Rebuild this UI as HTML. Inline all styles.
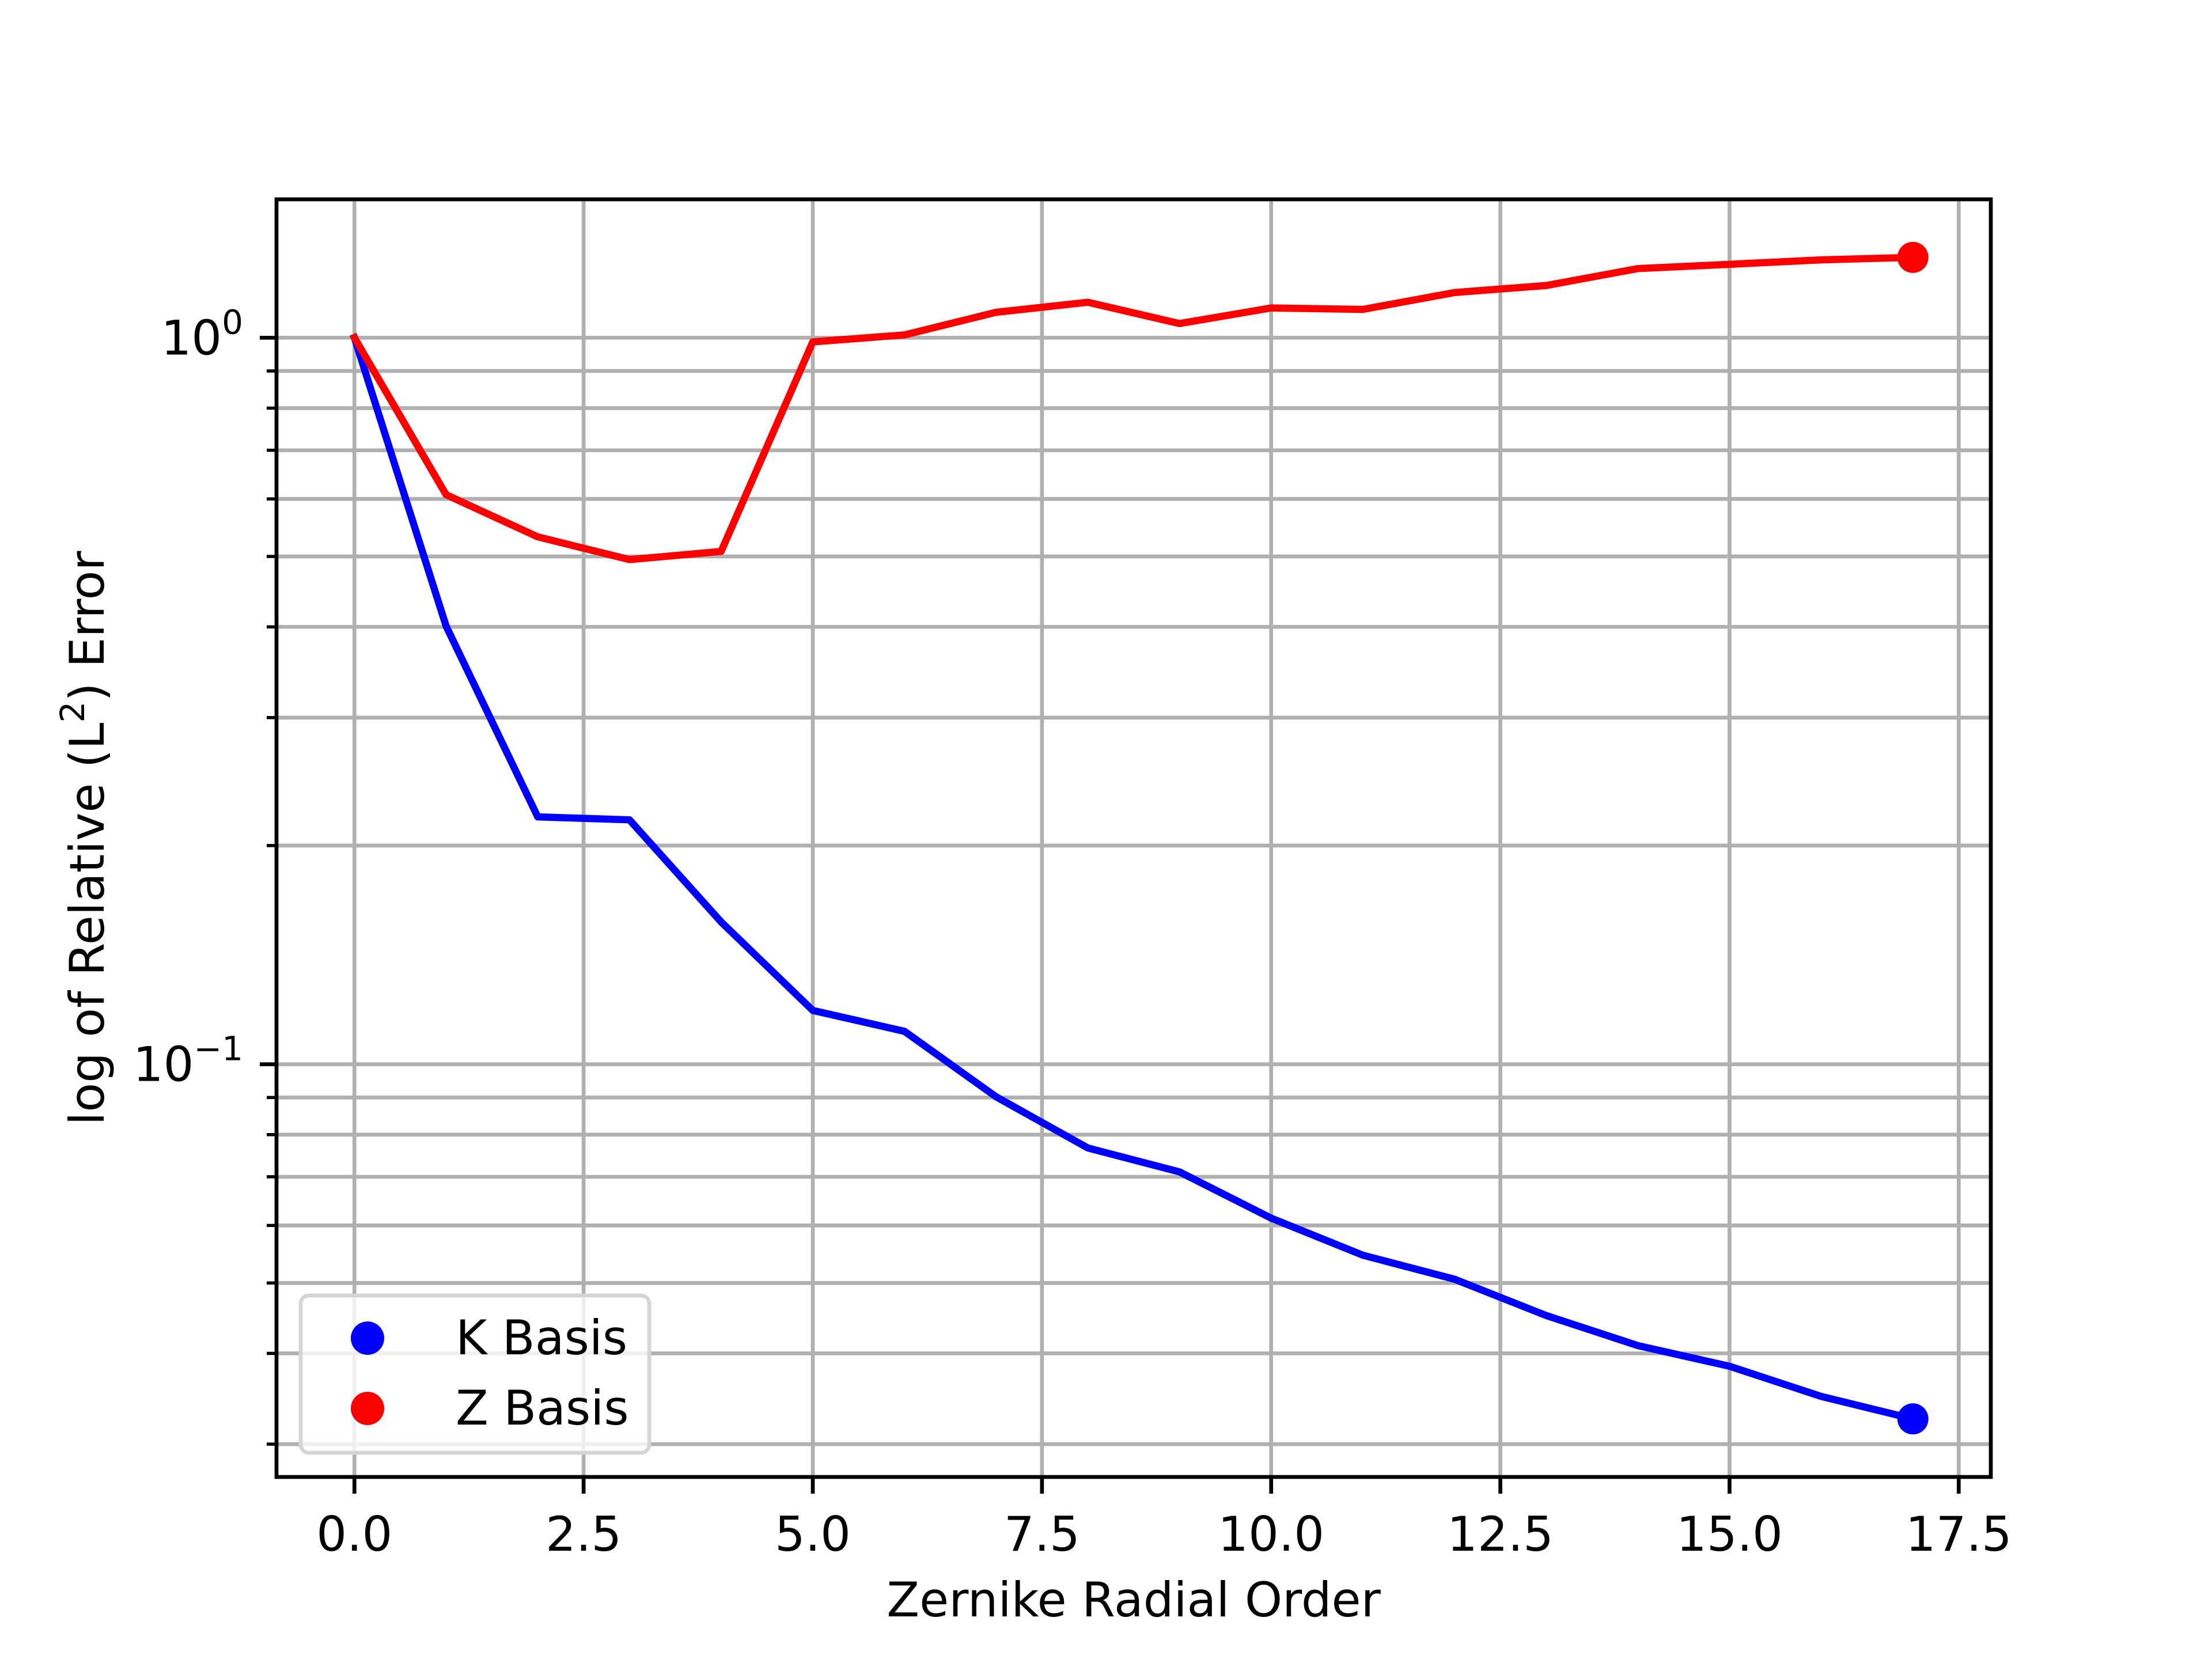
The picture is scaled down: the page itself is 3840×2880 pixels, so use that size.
<!DOCTYPE html>
<html><head><meta charset="utf-8"><style>html,body{margin:0;padding:0;background:#fff}svg{display:block}text{font-family:"DejaVu Sans","Liberation Sans",sans-serif}</style></head>
<body>
<svg id="chart" width="3840" height="2880" viewBox="0 0 3840 2880" xmlns="http://www.w3.org/2000/svg">
<rect width="3840" height="2880" fill="#fff"/>
<g id="grid"></g>
<g id="series"></g>
<g id="axes"></g>
<g id="legend"></g>
</svg>
<script>
const orders = [0,1,2,3,4,5,6,7,8,9,10,11,12,13,14,15,16,17];
const kBasis = [1.0,0.401,0.219,0.217,0.157,0.1186,0.111,0.0902,0.0767,0.0711,0.0614,0.0546,0.0506,0.0451,0.0410,0.0384,0.0349,0.0325];
const zBasis = [1.0,0.608,0.532,0.495,0.508,0.987,1.009,1.084,1.119,1.046,1.099,1.094,1.154,1.18,1.245,1.262,1.28,1.29];
const xTicks = [0,2.5,5,7.5,10,12.5,15,17.5];
const xTickLabels = ["0.0","2.5","5.0","7.5","10.0","12.5","15.0","17.5"];
const yMajor = [1,0.1];
const yMinor = [0.03,0.04,0.05,0.06,0.07,0.08,0.09,0.2,0.3,0.4,0.5,0.6,0.7,0.8,0.9];

const L=480,R=3456,T=346,B=2564;
const NS="http://www.w3.org/2000/svg";
const allX=orders, allY=kBasis.concat(zBasis);
const xmin=Math.min(...allX), xmax=Math.max(...allX), xm=(xmax-xmin)*0.05;
const x0=xmin-xm, x1=xmax+xm;
const ly=allY.map(Math.log10), lmin=Math.min(...ly), lmax=Math.max(...ly), lm=(lmax-lmin)*0.05;
const y0=lmin-lm, y1=lmax+lm;
const X=v=>L+(v-x0)/(x1-x0)*(R-L);
const Y=v=>B-(Math.log10(v)-y0)/(y1-y0)*(B-T);
function mk(tag,attrs,parent,txt){const e=document.createElementNS(NS,tag);for(const k in attrs)e.setAttribute(k,attrs[k]);if(txt!==undefined)e.textContent=txt;parent.appendChild(e);return e;}
const grid=document.getElementById('grid'),series=document.getElementById('series'),axes=document.getElementById('axes'),legend=document.getElementById('legend');
xTicks.forEach(t=>{const l=mk('line',{x1:X(t),x2:X(t),y1:T,y2:B,stroke:'#b0b0b0','stroke-width':6.7},grid);

});
yMajor.concat(yMinor).forEach(t=>{const l=mk('line',{x1:L,x2:R,y1:Y(t),y2:Y(t),stroke:'#b0b0b0','stroke-width':6.7},grid);

});
function line(vals,color,name){
  const pts=orders.map((o,i)=>X(o)+','+Y(vals[i])).join(' ');
  const p=mk('polyline',{points:pts,fill:'none',stroke:color,'stroke-width':12.5,'stroke-linejoin':'round','stroke-linecap':'square'},series);
  
  
  const n=orders.length-1;
  const c=mk('circle',{cx:X(orders[n]),cy:Y(vals[n]),r:27,fill:color},series);
  
  
}
line(kBasis,'#0000ff','k-basis');
line(zBasis,'#ff0000','z-basis');
const fr=mk('rect',{x:L,y:T,width:R-L,height:B-T,fill:'none',stroke:'#000','stroke-width':6.7},axes);


xTicks.forEach((t,i)=>{mk('line',{x1:X(t),x2:X(t),y1:B,y2:B+29,stroke:'#000','stroke-width':6.7},axes);
const tx=mk('text',{x:X(t),y:B+128,'font-size':83,'text-anchor':'middle',fill:'#000'},axes,xTickLabels[i]);

});
yMajor.forEach(t=>{mk('line',{x1:L,x2:L-29,y1:Y(t),y2:Y(t),stroke:'#000','stroke-width':6.7},axes);
const e=Math.round(Math.log10(t));
const tx=mk('text',{x:L-58,y:Y(t)+29,'font-size':83,'text-anchor':'end',fill:'#000'},axes);


mk('tspan',{},tx,'10');
mk('tspan',{dy:-36,'font-size':58},tx,e<0?'\u2212'+(-e):String(e));});
yMinor.forEach(t=>{mk('line',{x1:L,x2:L-17,y1:Y(t),y2:Y(t),stroke:'#000','stroke-width':5.5},axes);});
const xt=mk('text',{x:(L+R)/2,y:2806,'font-size':83,'text-anchor':'middle',fill:'#000'},axes,'Zernike Radial Order');


const yt=mk('text',{x:0,y:0,'font-size':83,'text-anchor':'middle',fill:'#000',transform:`translate(180,${(T+B)/2}) rotate(-90)`},axes);


mk('tspan',{},yt,'log of Relative (L');
mk('tspan',{dy:-34,'font-size':58},yt,'2');
mk('tspan',{dy:34},yt,') Error');
const lb=mk('rect',{x:522,y:2249,width:605,height:273,rx:14,fill:'#fff','fill-opacity':0.8,stroke:'#d5d5d5','stroke-width':6.7},legend);


[['K Basis','#0000ff',2323],['Z Basis','#ff0000',2445]].forEach(([lab,col,yy])=>{
  const c=mk('circle',{cx:638,cy:yy,r:29,fill:col},legend);
  
  
  const t=mk('text',{x:791,y:yy+28,'font-size':83,fill:'#000'},legend,lab);
  
  
});
</script>
</body></html>
